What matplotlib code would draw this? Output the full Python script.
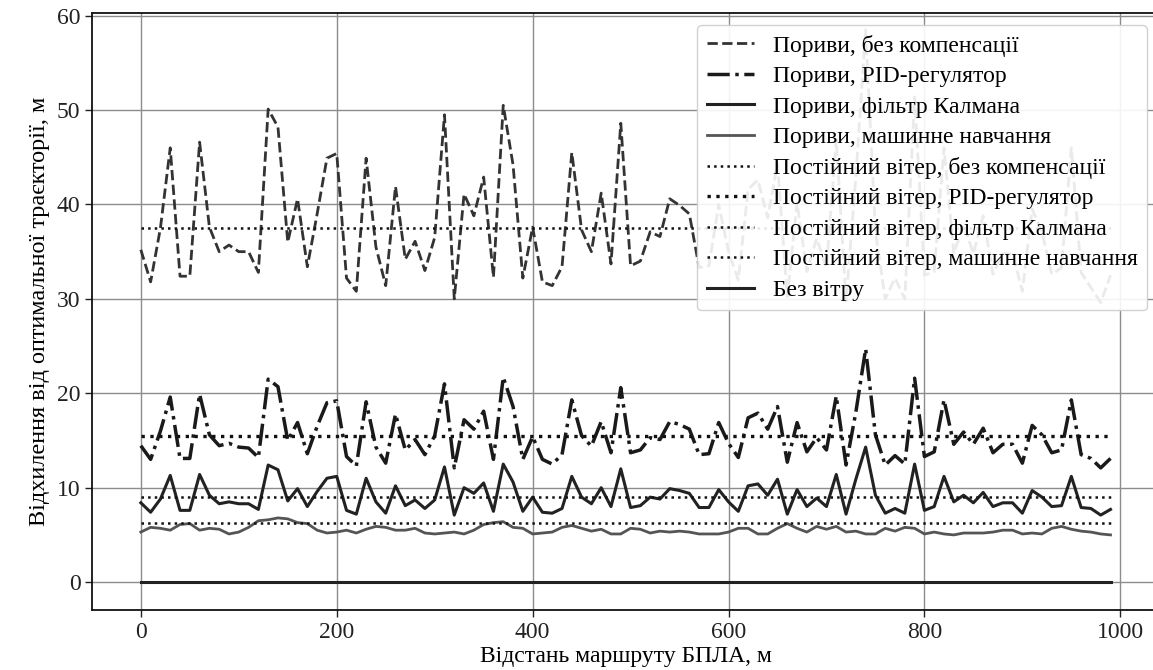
import matplotlib
matplotlib.use("Agg")
import matplotlib.pyplot as plt

plt.rcParams["font.family"] = ["Liberation Serif", "DejaVu Serif"]

# route distance, m
distance = list(range(0, 1000, 10))

# gusts, no compensation
gust_none = [
    35.2, 31.8, 37.5, 46.0, 32.4, 32.4, 46.6, 37.6, 35.0, 35.7,
    35.0, 35.0, 32.8, 50.1, 48.2, 36.0, 40.6, 33.4, 39.0, 44.9,
    45.4, 32.2, 30.8, 44.9, 35.5, 31.4, 41.9, 34.2, 36.1, 33.0,
    36.5, 49.5, 30.0, 41.1, 38.8, 42.9, 32.3, 50.5, 44.2, 32.2,
    37.6, 31.8, 31.4, 33.4, 45.5, 37.3, 35.0, 41.2, 33.7, 48.6,
    33.5, 34.0, 37.1, 36.6, 40.6, 39.9, 39.0, 33.3, 33.5, 40.0,
    35.0, 32.0, 41.6, 42.6, 38.6, 44.3, 30.2, 40.2, 32.9, 36.4,
    33.3, 46.9, 29.8, 42.9, 58.5, 37.1, 30.0, 32.2, 30.0, 51.4,
    32.5, 32.9, 46.0, 34.8, 37.9, 34.8, 38.8, 32.6, 34.8, 34.8,
    30.8, 39.5, 37.1, 32.6, 33.3, 46.0, 32.8, 31.2, 29.6, 32.5,
]

# gusts, PID controller
gust_pid = [
    14.45, 13.0, 16.0, 19.6, 13.1, 13.1, 19.9, 15.6, 14.45, 14.7,
    14.3, 14.2, 13.2, 21.5, 20.7, 15.0, 16.9, 13.6, 16.5, 19.0,
    19.2, 13.3, 12.3, 19.1, 14.3, 12.6, 17.8, 14.0, 15.1, 13.5,
    15.5, 21.0, 12.1, 17.2, 16.2, 18.1, 13.0, 21.7, 18.6, 13.0,
    15.4, 13.0, 12.5, 13.5, 19.3, 15.5, 14.4, 17.0, 13.7, 20.6,
    13.7, 14.0, 15.3, 15.1, 17.0, 16.7, 16.2, 13.5, 13.6, 16.9,
    14.7, 13.2, 17.4, 17.9, 16.2, 18.6, 12.7, 16.9, 13.8, 15.3,
    14.0, 19.7, 12.4, 18.0, 24.7, 15.6, 12.4, 13.4, 12.5, 21.6,
    13.3, 13.8, 19.3, 14.6, 15.9, 14.6, 16.3, 13.7, 14.6, 14.6,
    12.6, 16.6, 15.6, 13.7, 14.0, 19.3, 13.5, 13.1, 12.1, 13.1,
]

# gusts, Kalman filter
gust_kalman = [
    8.4, 7.4, 8.8, 11.3, 7.6, 7.6, 11.4, 9.2, 8.3, 8.5,
    8.3, 8.3, 7.7, 12.4, 11.9, 8.6, 9.9, 8.0, 9.6, 11.0,
    11.2, 7.6, 7.2, 11.0, 8.5, 7.3, 10.2, 8.1, 8.7, 7.8,
    8.7, 12.2, 7.1, 10.0, 9.4, 10.5, 7.5, 12.5, 10.6, 7.5,
    9.0, 7.4, 7.3, 7.8, 11.2, 9.0, 8.3, 10.0, 8.0, 12.0,
    7.9, 8.1, 9.0, 8.8, 9.9, 9.7, 9.4, 7.9, 7.9, 9.8,
    8.5, 7.5, 10.2, 10.4, 9.2, 10.9, 7.2, 9.8, 8.0, 8.9,
    8.0, 11.4, 7.2, 10.9, 14.3, 9.2, 7.3, 7.8, 7.3, 12.5,
    7.6, 8.0, 11.2, 8.5, 9.2, 8.4, 9.5, 8.0, 8.4, 8.4,
    7.3, 9.7, 9.0, 8.0, 8.1, 11.2, 7.9, 7.8, 7.1, 7.7,
]

# gusts, machine learning
gust_ml = [
    5.3, 5.8, 5.7, 5.5, 6.1, 6.2, 5.5, 5.7, 5.6, 5.1,
    5.3, 5.8, 6.5, 6.6, 6.8, 6.7, 6.3, 6.2, 5.5, 5.2,
    5.3, 5.5, 5.2, 5.6, 5.9, 5.8, 5.5, 5.5, 5.7, 5.2,
    5.1, 5.2, 5.3, 5.1, 5.5, 6.1, 6.3, 6.4, 5.8, 5.7,
    5.1, 5.2, 5.3, 5.8, 6.0, 5.7, 5.4, 5.6, 5.1, 5.1,
    5.7, 5.6, 5.2, 5.4, 5.3, 5.4, 5.3, 5.1, 5.1, 5.1,
    5.3, 5.7, 5.7, 5.1, 5.1, 5.7, 6.2, 5.7, 5.3, 5.9,
    5.6, 5.9, 5.3, 5.4, 5.1, 5.1, 5.7, 5.4, 5.8, 5.7,
    5.1, 5.3, 5.1, 5.0, 5.2, 5.2, 5.2, 5.3, 5.5, 5.5,
    5.1, 5.2, 5.1, 5.7, 5.9, 5.6, 5.4, 5.3, 5.1, 5.0,
]

# constant wind levels
const_none = 37.5
const_pid = 15.5
const_kalman = 9.0
const_ml = 6.3
no_wind = 0.0

labels = [
    "Пориви, без компенсації",
    "Пориви, PID-регулятор",
    "Пориви, фільтр Калмана",
    "Пориви, машинне навчання",
    "Постійний вітер, без компенсації",
    "Постійний вітер, PID-регулятор",
    "Постійний вітер, фільтр Калмана",
    "Постійний вітер, машинне навчання",
    "Без вітру",
]

fig = plt.figure(figsize=(11.53, 6.70), dpi=100)
ax = fig.add_axes([0.0801, 0.0896, 0.9251, 0.8906])

ax.plot(distance, gust_none, "--", color="#333333", lw=2, label=labels[0])
ax.plot(distance, gust_pid, "-.", color="#1a1a1a", lw=2.5, label=labels[1])
ax.plot(distance, gust_kalman, "-", color="#222222", lw=2.2, label=labels[2])
ax.plot(distance, gust_ml, "-", color="#555555", lw=2, label=labels[3])

n = len(distance)
ax.plot(distance, [const_none] * n, ":", color="#111111", lw=1.8, label=labels[4])
ax.plot(distance, [const_pid] * n, ":", color="#111111", lw=2.4, label=labels[5])
ax.plot(distance, [const_kalman] * n, ":", color="#111111", lw=1.8, label=labels[6])
ax.plot(distance, [const_ml] * n, ":", color="#111111", lw=1.8, label=labels[7])
ax.plot(distance, [no_wind] * n, "-", color="#222222", lw=2.2, label=labels[8])

ax.set_xlim(-49.5, 1039.5)
ax.set_ylim(-2.95, 60.25)
ax.set_xticks([0, 200, 400, 600, 800, 1000])
ax.set_yticks([0, 10, 20, 30, 40, 50, 60])
ax.grid(True, color="#8c8c8c", lw=1.0)
ax.set_axisbelow(True)
ax.tick_params(labelsize=17, direction="out", length=5, width=1, colors="#222222")
for side in ax.spines.values():
    side.set_linewidth(1.3)
    side.set_color("#111111")

ax.set_xlabel("Відстань маршруту БПЛА, м", fontsize=17, labelpad=2)
ax.set_ylabel("Відхилення від оптимальної траєкторії, м", fontsize=17.5, labelpad=5)

ax.legend(loc="upper right", fontsize=17, framealpha=0.9, edgecolor="#cccccc",
          borderaxespad=0.5, labelspacing=0.38)

fig.savefig("out.png", dpi=100)
